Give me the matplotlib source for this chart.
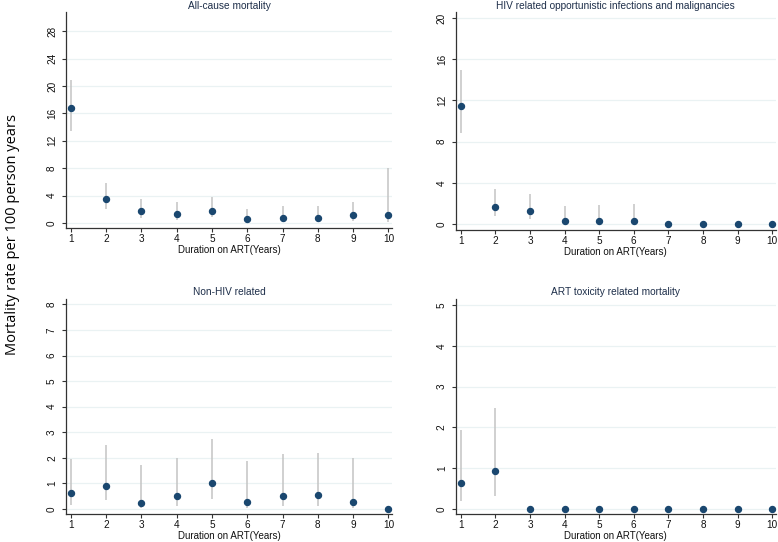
import numpy as np
import matplotlib
matplotlib.use("Agg")
import matplotlib.pyplot as plt

plt.rcParams['font.family'] = ['Liberation Sans', 'DejaVu Sans']

years = [1, 2, 3, 4, 5, 6, 7, 8, 9, 10]

# All-cause mortality
allcause_rate = [16.8, 3.45, 1.7, 1.25, 1.8, 0.52, 0.78, 0.78, 1.1, 1.1]
allcause_lo = [13.5, 2.05, 0.8, 0.45, 0.83, 0.05, 0.2, 0.2, 0.25, 0.15]
allcause_hi = [20.9, 5.85, 3.5, 3.0, 3.8, 2.1, 2.5, 2.5, 3.05, 8.1]

# HIV related opportunistic infections and malignancies
hiv_rate = [11.5, 1.65, 1.23, 0.26, 0.26, 0.29, 0, 0, 0, 0]
hiv_lo = [8.8, 0.77, 0.48, 0.06, 0.06, 0.06, 0, 0, 0, 0]
hiv_hi = [15.0, 3.4, 2.9, 1.77, 1.84, 1.9, 0, 0, 0, 0]

# Non-HIV related
nonhiv_rate = [0.63, 0.91, 0.23, 0.5, 1.02, 0.26, 0.52, 0.53, 0.27, 0]
nonhiv_lo = [0.17, 0.33, 0.04, 0.1, 0.37, 0.03, 0.12, 0.12, 0.04, 0]
nonhiv_hi = [1.94, 2.49, 1.71, 2.0, 2.72, 1.86, 2.15, 2.18, 1.98, 0]

# ART toxicity related mortality
tox_rate = [0.63, 0.93, 0, 0, 0, 0, 0, 0, 0, 0]
tox_lo = [0.2, 0.33, 0, 0, 0, 0, 0, 0, 0, 0]
tox_hi = [1.94, 2.48, 0, 0, 0, 0, 0, 0, 0, 0]

panels = [
    ("All-cause mortality", allcause_rate, allcause_lo, allcause_hi,
     np.arange(0, 29, 4), (-0.73, 30.8)),
    ("HIV related opportunistic infections and malignancies", hiv_rate, hiv_lo, hiv_hi,
     np.arange(0, 21, 4), (-0.58, 20.58)),
    ("Non-HIV related", nonhiv_rate, nonhiv_lo, nonhiv_hi,
     np.arange(0, 9, 1), (-0.2, 8.22)),
    ("ART toxicity related mortality", tox_rate, tox_lo, tox_hi,
     np.arange(0, 6, 1), (-0.12, 5.15)),
]

# axes boxes in figure fractions
rects = [
    [0.0848, 0.5793, 0.419, 0.3985],
    [0.586, 0.5756, 0.411, 0.402],
    [0.0848, 0.0517, 0.419, 0.397],
    [0.586, 0.0517, 0.411, 0.397],
]

navy = '#1a476f'
ci_col = '#c4c4c4'
txt_col = '#1e2f4a'

fig = plt.figure(figsize=(7.78, 5.42), dpi=100)

for rect, (title, rate, lo, hi, yt, ylim) in zip(rects, panels):
    ax = fig.add_axes(rect)
    rate = np.array(rate)
    lo = np.array(lo)
    hi = np.array(hi)
    has_ci = hi > lo
    ax.vlines(np.array(years)[has_ci], lo[has_ci], hi[has_ci],
              color=ci_col, lw=1.1, zorder=2)
    ax.plot(years, rate, 'o', color=navy, ms=4.3, zorder=3)
    ax.set_xlim(0.86, 10.1)
    ax.set_ylim(*ylim)
    ax.set_xticks(years)
    ax.set_yticks(yt)
    ax.set_yticklabels([str(v) for v in yt], rotation=90, va='center')
    ax.grid(axis='y', color='#eaf2f3', lw=0.9)
    ax.set_axisbelow(True)
    for s in ['top', 'right']:
        ax.spines[s].set_visible(False)
    for s in ['left', 'bottom']:
        ax.spines[s].set_color('#333333')
        ax.spines[s].set_linewidth(0.9)
    ax.tick_params(axis='both', labelsize=7.2, colors='#333333',
                   length=3, width=0.8, labelcolor='#111111')
    ax.tick_params(axis='x', pad=1.5)
    ax.tick_params(axis='y', pad=3.5)
    ax.set_title(title, fontsize=7.3, color=txt_col, pad=2.5)
    ax.set_xlabel("Duration on ART(Years)", fontsize=7, color='#111111',
                  labelpad=0.5)

fig.text(0.016, 0.568, "Mortality rate per 100 person years", rotation=90,
         va='center', ha='center', fontsize=10.5,
         family=['Open Sans', 'DejaVu Sans'])

fig.savefig("out.png", dpi=100)
